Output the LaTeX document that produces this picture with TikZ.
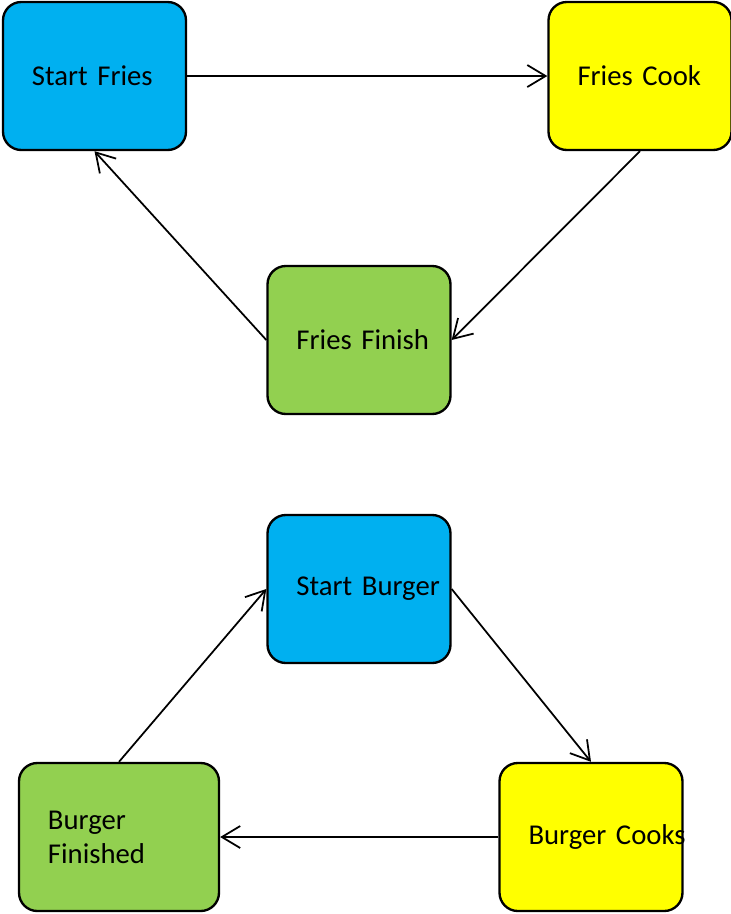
\documentclass[tikz,border=0pt]{standalone}
\usepackage{fontspec}
\setmainfont{Carlito}
\usetikzlibrary{arrows.meta}

\definecolor{startblue}{HTML}{00B0F0}
\definecolor{cookyellow}{HTML}{FFFF00}
\definecolor{finishgreen}{HTML}{92D050}

\hyphenpenalty=10000 % no hyphens in the boxes

\begin{document}
\begin{tikzpicture}[
            x = 0.03cm, y = -0.03cm, % one unit is one pixel of the sketch
            > = {Straight Barb[length=0.55cm, width=0.66cm]}, % arrow head style
            line width = 1.5pt % line style
        ]

        \tikzstyle{every box}=[
            draw = black,
            line width = 2pt,
            rounded corners = 0.55cm,
            minimum width = 5.49cm,
            minimum height = 4.44cm,
            inner xsep = 0.87cm,
            text width = 3.75cm,
            align = left,
            font = \fontsize{24.5}{29}\selectfont
        ]

        \useasboundingbox (0,0) rectangle (731,914);

        % fries
        \node[every box, fill=startblue] (startfries) at (94.5,76) {Start~Fries};
        \node[every box, fill=cookyellow] (friescook) at (640,76) {Fries~Cook};
        \node[every box, fill=finishgreen] (friesfinish) at (359,340) {Fries~Finish};

        % burger
        \node[every box, fill=startblue] (startburger) at (359,589) {Start~Burger};
        \node[every box, fill=cookyellow] (burgercooks) at (591,837) {Burger~Cooks};
        \node[every box, fill=finishgreen, minimum width=6cm, text width=4.26cm] (burgerfinished) at (119,837) {Burger\\Finished};

        \path[->] (startfries.east) edge node {} (friescook.west);
        \path[->] (friescook.south) edge node {} (friesfinish.east);
        \path[->] (friesfinish.west) edge node {} (startfries.south);

        \path[->] (startburger.east) edge node {} (burgercooks.north);
        \path[->] (burgercooks.west) edge node {} (burgerfinished.east);
        \path[->] (burgerfinished.north) edge node {} (startburger.west);
    \end{tikzpicture}
\end{document}
